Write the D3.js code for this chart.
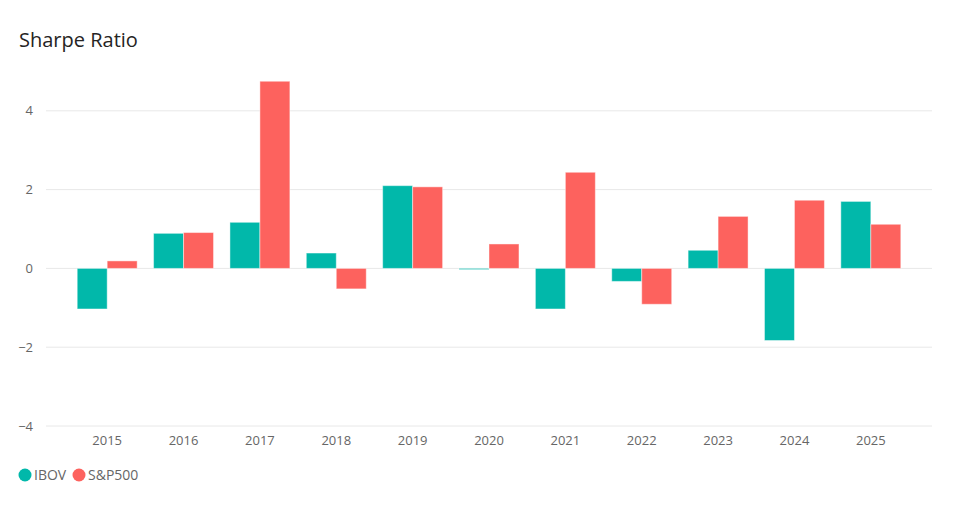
<!DOCTYPE html>
<html>
<head>
<meta charset="utf-8">
<script src="https://cdn.jsdelivr.net/npm/d3@7"></script>
<style>
	body { margin: 0; background: #fff; }
	svg text { font-family: "Open Sans", "Noto Sans", sans-serif; }
</style>
</head>
<body>
<div id="chart-area"></div>
<script>
// Data
let years = ["2015", "2016", "2017", "2018", "2019", "2020", "2021", "2022", "2023", "2024", "2025"];
let ibov = [-1.03, 0.89, 1.17, 0.39, 2.10, -0.03, -1.03, -0.33, 0.46, -1.83, 1.70];
let sp500 = [0.19, 0.91, 4.75, -0.52, 2.07, 0.62, 2.44, -0.91, 1.32, 1.73, 1.12];
let seriesNames = ["IBOV", "S&P500"];
let yTicks = [-4, -2, 0, 2, 4];

let width = 973,
	height = 505;

let colors = {"IBOV": "#01B8AA", "S&P500": "#FD625E"};

let data = years.map((y, i) => ({year: y, values: [
	{key: "IBOV", value: ibov[i]},
	{key: "S&P500", value: sp500[i]}
]}));

let svg = d3.select("#chart-area").append("svg")
	.attr("width", width)
	.attr("height", height);

// Title
svg.append("text")
	.attr("x", 19)
	.attr("y", 47)
	.attr("font-size", 20)
	.attr("fill", "#252423")
	.text("Sharpe Ratio");

// Scales
let x0 = d3.scaleBand()
	.domain(years)
	.range([69, 909])
	.paddingInner(0.215)
	.paddingOuter(0.1075);

let x1 = d3.scaleBand()
	.domain(seriesNames)
	.range([0, x0.bandwidth()]);

let y = d3.scaleLinear()
	.domain([-4, 5])
	.range([426, 71.4]);

// Gridlines
svg.append("g")
	.selectAll("line")
	.data(yTicks)
	.enter()
	.append("line")
	.attr("x1", 46)
	.attr("x2", 932)
	.attr("y1", d => y(d))
	.attr("y2", d => y(d))
	.attr("stroke", "#E8E8E8")
	.attr("stroke-width", 1);

// Y axis
let yAxis = d3.axisLeft(y).tickValues(yTicks).tickSize(0).tickPadding(0);
let yg = svg.append("g")
	.attr("transform", "translate(33,0)")
	.call(yAxis);
yg.select(".domain").remove();
yg.selectAll("text")
	.attr("font-size", 13)
	.attr("fill", "#666666")
	.style("font-family", "'Open Sans', sans-serif");

// X axis
let xAxis = d3.axisBottom(x0).tickSize(0).tickPadding(0);
let xg = svg.append("g")
	.attr("transform", "translate(0,436)")
	.call(xAxis);
xg.select(".domain").remove();
xg.selectAll("text")
	.attr("font-size", 13)
	.attr("fill", "#666666")
	.style("font-family", "'Open Sans', sans-serif");

// Bars
let groups = svg.append("g")
	.selectAll("g")
	.data(data)
	.enter()
	.append("g")
	.attr("transform", d => "translate(" + x0(d.year) + ",0)");

groups.selectAll("rect")
	.data(d => d.values)
	.enter()
	.append("rect")
	.attr("x", d => x1(d.key))
	.attr("width", x1.bandwidth())
	.attr("y", d => y(Math.max(0, d.value)))
	.attr("height", d => Math.abs(y(d.value) - y(0)))
	.attr("fill", d => colors[d.key])
	.attr("stroke", "rgba(255,255,255,0.45)")
	.attr("stroke-width", 1);

// Legend
let legendX = [25, 79];
let legend = svg.append("g")
	.selectAll("g")
	.data(seriesNames)
	.enter()
	.append("g")
	.attr("transform", (d, i) => "translate(" + legendX[i] + ",475)");

legend.append("circle")
	.attr("r", 6.5)
	.attr("fill", d => colors[d]);

legend.append("text")
	.attr("x", 9)
	.attr("y", 5)
	.attr("font-size", 14)
	.attr("fill", "#666666")
	.text(d => d);
</script>
</body>
</html>
